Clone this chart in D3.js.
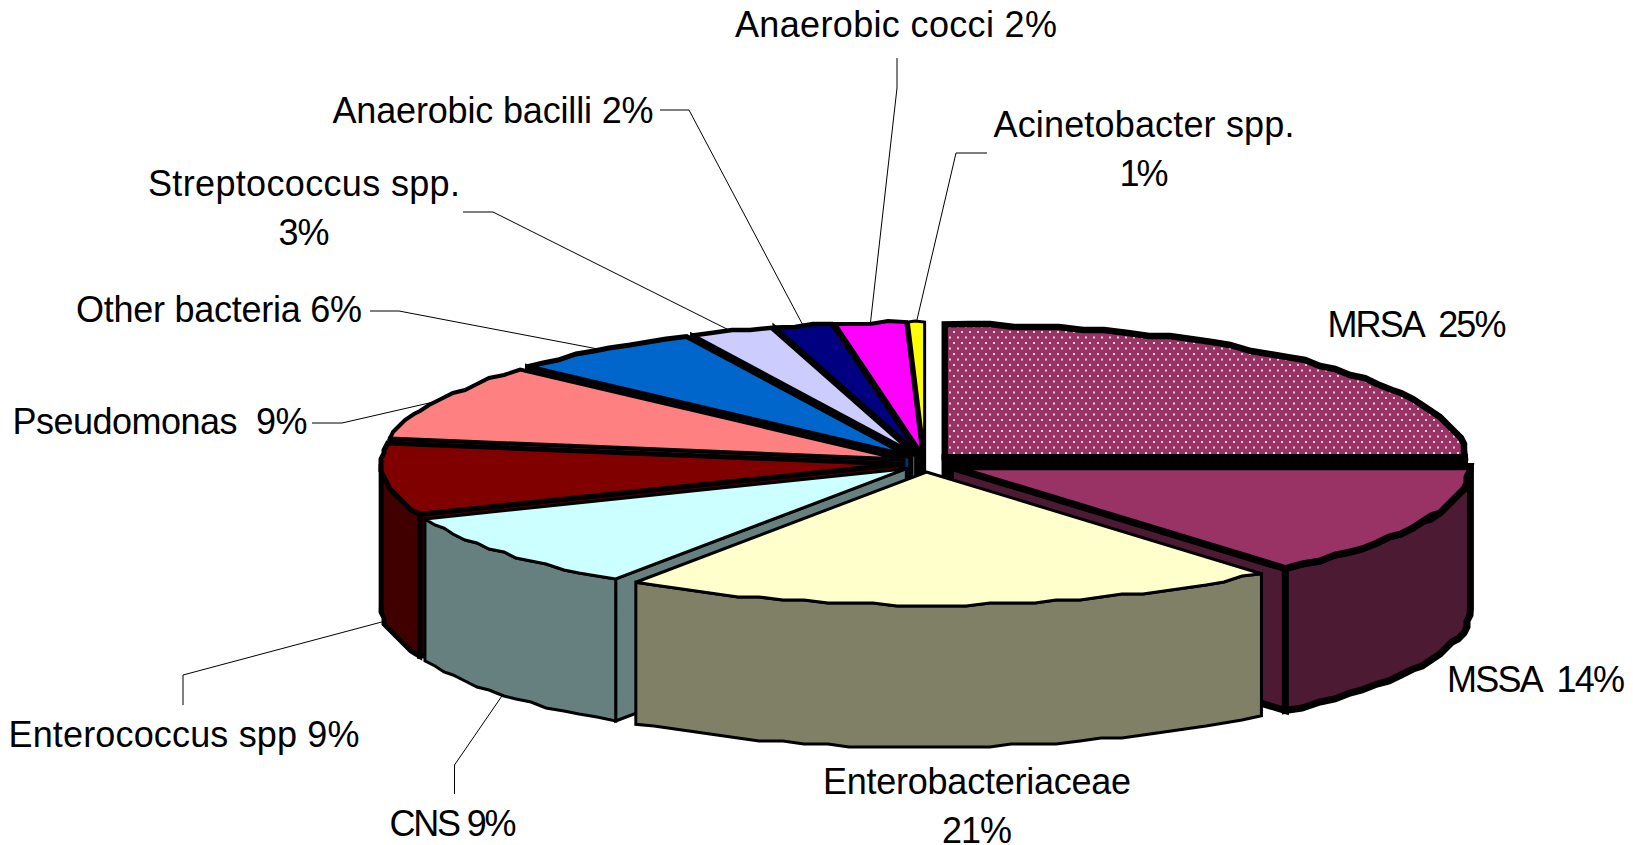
<!DOCTYPE html>
<html><head><meta charset="utf-8">
<script src="https://cdn.jsdelivr.net/npm/d3@7"></script>
<style>html,body{margin:0;padding:0;background:#fff;overflow:hidden}svg{display:block}
text{font-family:"Liberation Sans",Arial,sans-serif;font-size:36px;fill:#000;white-space:pre}</style>
</head><body><svg id="c" width="1633" height="845"></svg>
<script>
const categories=["MRSA","MSSA","Enterobacteriaceae","CNS","Enterococcus spp","Pseudomonas","Other bacteria","Streptococcus spp.","Anaerobic bacilli","Anaerobic cocci","Acinetobacter spp."];
const values=[25,13.9,20.6,9.4,8.7,9.3,6.1,2.6,1.8,2.2,0.5];
const shownPercents=[25,14,21,9,9,9,6,3,2,2,1];
const topColors=["#993366","#993366","#FFFFCC","#CCFFFF","#800000","#FF8080","#0066CC","#CCCCFF","#000080","#FF00FF","#FFFF00"];
const sideColors=["#000000","#4d1a33","#808066","#668080","#400000","#804040","#003366","#666680","#000040","#800080","#808000"];
const strokeWidths=[6.5,7,3,3,5,4,5,4.5,4.5,4,3];
const paintOrder=[10,9,8,7,6,5,0,4,1,3,2];
const labelLines=[["MRSA  25%"],["MSSA  14%"],["Enterobacteriaceae","21%"],["CNS 9%"],["Enterococcus spp 9%"],["Pseudomonas  9%"],["Other bacteria 6%"],["Streptococcus spp.","3%"],["Anaerobic bacilli 2%"],["Anaerobic cocci 2%"],["Acinetobacter spp.","1%"]];
const labelWidths=[[179],[178],[308,70],[127],[351],[295],[286],[312,51],[321],[322],[301,49]];
const labelAnchors=[[1417,337],[1536,692],[977,794],[453,836],[184,747],[160,434],[219,322],[304,196],[493,123],[896,37],[1144,137]];
const leaderElbows=[null,null,null,[[454.5,794],[454.5,765]],[[183,705],[183,675]],[[312,423],[342,423]],[[370,311],[399,311]],[[463,212],[493,212]],[[660,110],[689,110]],[[897,58],[897,88]],[[987,153],[956,153]]];

const cx=925,cy=463,rx=520,ry=133,depth=142,lineGap=49;
const svg=d3.select("#c");
const defs=svg.append("defs");
const pat=defs.append("pattern").attr("id","dots").attr("patternUnits","userSpaceOnUse").attr("width",8).attr("height",11);
pat.append("rect").attr("width",8).attr("height",11).attr("fill","#993366");
pat.append("rect").attr("x",1).attr("y",1).attr("width",2).attr("height",2).attr("fill","#ecd0de");
pat.append("rect").attr("x",5).attr("y",6.5).attr("width",2).attr("height",2).attr("fill","#ecd0de");

const arcs=d3.pie().sort(null).value(d=>d)(values);
const ox=d3.scaleLinear().domain([-1,0,1]).range([-24,0,28]);
const oy=d3.scaleLinear().domain([-1,0,1]).range([-8,0,9]);
const q=v=>Math.round(v/3)*3;
const apex=a=>{const m=(a.startAngle+a.endAngle)/2;return [cx+ox(Math.sin(m)),cy+oy(-Math.cos(m))];};
const rim=(a,t,dy=0)=>{const c=apex(a);return [c[0]+rx*Math.sin(t),c[1]-ry*Math.cos(t)+dy];};
function rimPts(a,t0,t1,dy=0){
  const n=Math.max(2,Math.ceil(Math.abs(t1-t0)/(2.6*Math.PI/180)));
  return d3.range(n+1).map(i=>{const t=t0+(t1-t0)*i/n;const p=rim(a,t,dy);
    return (i==0||i==n)?p:[q(p[0]),q(p[1])];});
}
const line=d3.line();
const g=svg.append("g").attr("stroke","#000").attr("stroke-linejoin","miter").attr("stroke-miterlimit",2.5);
paintOrder.forEach(i=>{
  const a=arcs[i],c=apex(a),w=strokeWidths[i],s=g.append("g").attr("stroke-width",w).attr("fill",sideColors[i]);
  const wall=t=>{const p=rim(a,t);
    s.append("path").attr("d",line([c,p,[p[0],p[1]+depth],[c[0],c[1]+depth]])+"Z");};
  if(Math.sin(a.startAngle)<-1e-6) wall(a.startAngle);
  if(Math.sin(a.endAngle)>1e-6) wall(a.endAngle);
  const lo=Math.max(a.startAngle,Math.PI/2),hi=Math.min(a.endAngle,3*Math.PI/2);
  if(hi>lo) s.append("path").attr("d",line(rimPts(a,lo,hi).concat(rimPts(a,hi,lo,depth)))+"Z");
  s.append("path").attr("fill",i==0?"url(#dots)":topColors[i])
    .attr("d",line([c].concat(rimPts(a,a.startAngle,a.endAngle)))+"Z");
});
const lg=svg.append("g").attr("fill","none").attr("stroke","#000").attr("stroke-width",1);
arcs.forEach((a,i)=>{
  if(!leaderElbows[i])return;
  const m=(a.startAngle+a.endAngle)/2;
  const end=rim(a,m,Math.cos(m)<0?depth:0);
  lg.append("path").attr("d",line(leaderElbows[i].concat([end])));
});
const tg=svg.append("g").attr("text-anchor","middle");
labelLines.forEach((ls,i)=>ls.forEach((t,k)=>tg.append("text")
  .attr("x",labelAnchors[i][0]).attr("y",labelAnchors[i][1]+k*lineGap)
  .attr("textLength",labelWidths[i][k]).attr("lengthAdjust","spacing").text(t)));
</script></body></html>
